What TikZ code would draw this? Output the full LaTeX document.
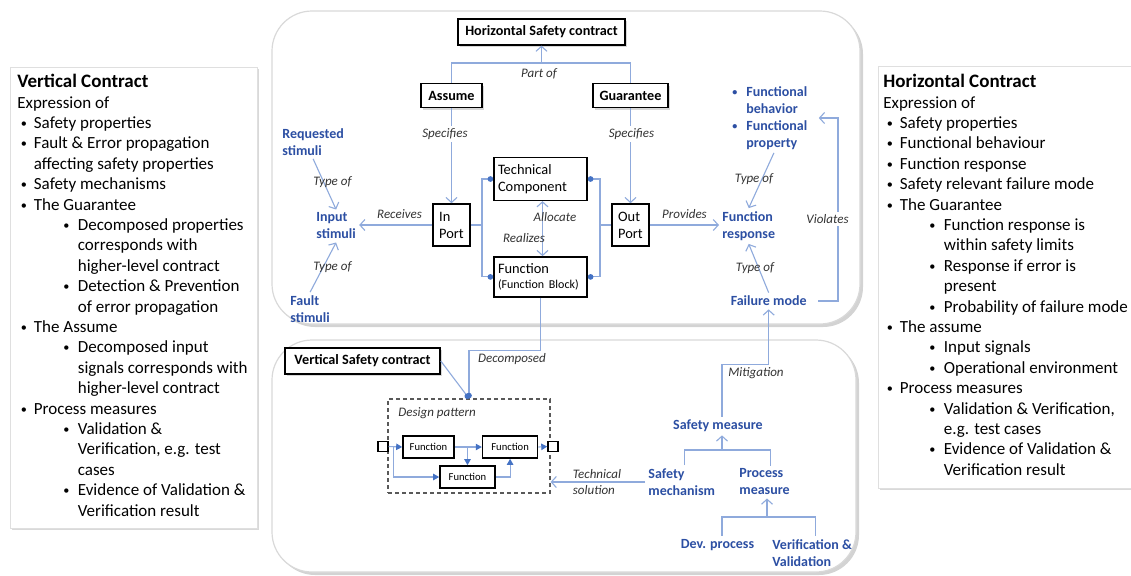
\documentclass[tikz,border=0pt]{standalone}
\usepackage{fontspec}
\setmainfont{Carlito}
\usepackage{tikz}
\usetikzlibrary{shapes, arrows.meta, positioning, shadows, fit}
\tikzstyle{every node}=[font=\fontsize{7.2}{8.5}\selectfont]

\definecolor{linkblue}{HTML}{8FAADC}
\definecolor{termblue}{HTML}{2C4FA3}
\definecolor{dotblue}{HTML}{4472C4}

% bullet lines for the two side panels
\newcommand{\smallbullet}{\raisebox{.12ex}{\scalebox{.72}{\textbullet}}}
\newcommand{\bitem}[1]{\hspace*{1.75pt}\makebox[6.5pt][l]{\smallbullet}#1}
\newcommand{\bcont}[1]{\hspace*{8.25pt}#1}
\newcommand{\sitem}[1]{\hspace*{23pt}\makebox[7.25pt][l]{\smallbullet}#1}
\newcommand{\scont}[1]{\hspace*{30.25pt}#1}

\begin{document}
\begin{tikzpicture}[
        x=0.5pt, y=-0.5pt, % one unit = one pixel of the layout
        >={Straight Barb[length=2.5pt,width=5.5pt]},
        container/.style={draw=gray!30, fill=white, rounded corners=20pt, line width=0.6pt, drop shadow={shadow xshift=1.5pt, shadow yshift=-1.5pt, opacity=0.35}},
        panel/.style={draw=gray!25, fill=white, line width=0.5pt, drop shadow={shadow xshift=1.2pt, shadow yshift=-1.2pt, opacity=0.3}},
        contract/.style={draw, thick, fill=white, font=\fontsize{7.1}{8.5}\selectfont\bfseries, inner xsep=2.5pt, minimum height=12pt, drop shadow={shadow xshift=1pt, shadow yshift=-1pt, opacity=0.3}},
        port/.style={draw, thick, fill=white, align=left, minimum width=18.5pt, minimum height=21pt, inner sep=1pt},
        block/.style={draw, thick, fill=white, align=left, text width=42.5pt, inner xsep=2pt},
        term/.style={text=termblue, font=\fontsize{7}{8.5}\selectfont\bfseries, align=left, inner sep=1.5pt},
        lbl/.style={font=\fontsize{6.5}{8}\selectfont\itshape, text=black!80, inner sep=1pt},
        link/.style={draw=linkblue, line width=0.55pt},
        dot/.style={-{Circle[length=2.8pt, color=dotblue]}},
        flow/.style={link, -{Triangle[length=3pt, width=3.2pt, color=dotblue]}},
        fnbox/.style={draw, thick, fill=white, font=\fontsize{5.3}{6}\selectfont, minimum height=11pt, inner xsep=2pt},
        pbox/.style={draw, line width=0.7pt, fill=white, minimum size=5pt, inner sep=0pt},
        sidetext/.style={anchor=north west, align=left, inner sep=0pt, font=\fontsize{8.5}{10.2}\selectfont}
    ]
    \useasboundingbox (0,0) rectangle (1131,575);

    % --- Side panels ---
    \node[panel, fit={(10,67) (257,528)}, inner sep=0pt] (vpanel) {};
    \node[sidetext] (vtext) at (17,74) {%
        {\fontsize{9.5}{10.2}\selectfont\bfseries Vertical Contract}\\
        Expression of\\
        \bitem{Safety properties}\\
        \bitem{Fault \& Error propagation}\\
        \bcont{affecting safety properties}\\
        \bitem{Safety mechanisms}\\
        \bitem{The Guarantee}\\
        \sitem{Decomposed properties}\\
        \scont{corresponds with}\\
        \scont{higher-level contract}\\
        \sitem{Detection \& Prevention}\\
        \scont{of error propagation}\\
        \bitem{The Assume}\\
        \sitem{Decomposed input}\\
        \scont{signals corresponds with}\\
        \scont{higher-level contract}\\
        \bitem{Process measures}\\
        \sitem{Validation \&}\\
        \scont{Verification, e.g. test}\\
        \scont{cases}\\
        \sitem{Evidence of Validation \&}\\
        \scont{Verification result}};

    \node[panel, fit={(878,66) (1135,488)}, inner sep=0pt] (hpanel) {};
    \node[sidetext] (htext) at (883,74) {%
        {\fontsize{9.5}{10.2}\selectfont\bfseries Horizontal Contract}\\
        Expression of\\
        \bitem{Safety properties}\\
        \bitem{Functional behaviour}\\
        \bitem{Function response}\\
        \bitem{Safety relevant failure mode}\\
        \bitem{The Guarantee}\\
        \sitem{Function response is}\\
        \scont{within safety limits}\\
        \sitem{Response if error is}\\
        \scont{present}\\
        \sitem{Probability of failure mode}\\
        \bitem{The assume}\\
        \sitem{Input signals}\\
        \sitem{Operational environment}\\
        \bitem{Process measures}\\
        \sitem{Validation \& Verification,}\\
        \scont{e.g. test cases}\\
        \sitem{Evidence of Validation \&}\\
        \scont{Verification result}};

    % --- Containers ---
    \node[container, fit={(272,11) (860,324)}, inner sep=0pt] (hcont) {};
    \node[container, fit={(272,340) (856,572)}, inner sep=0pt] (vcont) {};

    % --- Nodes (horizontal contract) ---
    \node[contract, minimum width=83.5pt] (hsc) at (541.5,32) {Horizontal Safety contract};
    \node[contract, minimum width=30.5pt] (assume) at (451.5,95.5) {Assume};
    \node[contract, minimum width=37.5pt] (guarantee) at (630.5,95.5) {Guarantee};
    \node[port] (inport) at (451.5,225) {In\\Port};
    \node[port] (outport) at (630.5,225) {Out\\Port};
    \node[block, minimum height=21pt] (tc) at (540.5,179) {Technical\\Component};
    \node[block, minimum height=18.5pt, below=27.5pt of tc] (func) {Function\\[-1pt]{\fontsize{6}{7}\selectfont(Function Block)}};

    \node[term, anchor=west] (reqstim) at (279,142) {Requested\\stimuli};
    \node[term, anchor=west] (instim) at (313,226) {Input\\stimuli};
    \node[term, anchor=west] (faultstim) at (287,309) {Fault\\stimuli};
    \node[term, anchor=west] (fresp) at (719,226) {Function\\response};
    \node[term, anchor=west, text width=41.5pt] (fprop) at (729,118) {%
        \makebox[7pt][l]{\smallbullet}Functional\\\hspace*{7pt}behavior\\
        \makebox[7pt][l]{\smallbullet}Functional\\\hspace*{7pt}property};
    \node[term, anchor=east, inner xsep=5.5pt] (fmode) at (818,301) {Failure mode};

    % --- Nodes (vertical contract) ---
    \node[contract, minimum width=77.5pt] (vsc) at (362.5,361) {Vertical Safety contract};
    \node[draw=gray!70!black, line width=0.6pt, dash pattern=on 2pt off 1.5pt, fit={(388,399) (550,493)}, inner sep=0pt] (dpattern) {};
    \node[lbl, anchor=west] at (396,413) {Design pattern};
    \node[fnbox, minimum width=25.5pt] (f1) at (428.5,447) {Function};
    \node[fnbox, minimum width=27.5pt, right=13.5pt of f1] (f2) {Function};
    \node[fnbox, minimum width=27.5pt] (f3) at (467.5,477) {Function};
    \node[pbox] (pin) at (383,446.5) {};
    \node[pbox] (pout) at (553,446.5) {};

    \node[term, align=center] (smeasure) at (718,426) {Safety measure};
    \node[term, anchor=west] (smech) at (645,482) {Safety\\mechanism};
    \node[term, anchor=west] (pmeasure) at (736,482) {Process\\measure};
    \node[term, align=center] (devproc) at (717.5,545) {Dev. process};
    \node[term, anchor=west] (vv) at (769,553) {Verification \&\\Validation};

    % --- Connections & Labels ---

    % 1. Assume / Guarantee are part of the contract
    \coordinate (partof) at (541.5,63);
    \draw[link] (assume.north) |- (partof) -| (guarantee.north);
    \draw[link,->] (partof) -- (hsc.south);
    \node[lbl] at (539,74) {Part of};

    % 2. Specifies
    \draw[link,->] (assume.south) -- (inport.north);
    \node[lbl, fill=white] at (445,134) {Specifies};
    \draw[link,->] (guarantee.south) -- (outport.north);
    \node[lbl, fill=white] at (631.5,134) {Specifies};

    % 3. Ports to component and function
    \coordinate (injoin) at (482,225);
    \draw[link] (inport.east) -- (injoin);
    \draw[link,dot] (injoin) |- (tc.west);
    \draw[link,dot] (injoin) |- (func.west);
    \coordinate (outjoin) at (600,225);
    \draw[link] (outport.west) -- (outjoin);
    \draw[link,dot] (outjoin) |- (tc.east);
    \draw[link,dot] (outjoin) |- (func.east);
    \draw[link,<->] ([xshift=1pt]tc.south) -- ([xshift=1pt]func.north);
    \node[lbl] at (555,217) {Allocate};
    \node[lbl] at (524,238) {Realizes};

    % 4. Stimuli
    \draw[link,->] (inport.west) -- (inport.west -| instim.east);
    \node[lbl] at (399.5,214) {Receives};
    \draw[link,->] (reqstim.south) -- (instim.north);
    \node[lbl] at (332.5,182) {Type of};
    \draw[link,->] (faultstim.north) -- (instim.south);
    \node[lbl] at (332.5,267) {Type of};

    % 5. Response
    \draw[link,->] (outport.east) -- (outport.east -| fresp.west);
    \node[lbl] at (684.5,214) {Provides};
    \draw[link,->] (fprop.south) -- (fresp.north);
    \node[lbl] at (754,179) {Type of};
    \draw[link,->] (fmode.north) -- (fresp.south);
    \node[lbl] at (755,268) {Type of};
    \draw[link,->] (fmode.east) -- ++(20,0) |- (fprop.east);
    \node[lbl, fill=white] at (827.5,219) {Violates};

    % 6. Decomposition
    \draw[link,dot] (func.south) -- ++(0,53) -| (dpattern.north);
    \draw[link,dot] (vsc.east) -- (dpattern.north);
    \node[lbl] at (512,359) {Decomposed};

    % 7. Design pattern flow
    \draw[flow] (pin.east) -- (f1.west);
    \draw[flow] (f1.east) -- (f2.west);
    \draw[flow] (f1.east -| f3.north) -- (f3.north);
    \draw[flow] ([xshift=2.5pt]pin.east) |- (f3.west);
    \draw[flow] (f3.east) -| (f2.south);
    \draw[flow] (f2.east) -- (pout.west);

    % 8. Safety measures
    \draw[link,->] (smech.west) -- (smech.west -| dpattern.east);
    \node[lbl, align=left] at (597,482) {Technical\\solution};
    \draw[link,->] ([xshift=2pt]smeasure.north) -- ++(0,-52) -| (fmode.south);
    \node[lbl] at (756,373) {Mitigation};
    \coordinate (smjoin) at (722,450);
    \draw[link] ([xshift=1.5pt]smech.north) |- (smjoin) -| ([xshift=2.75pt]pmeasure.north);
    \draw[link,->] (smjoin) -- (smjoin |- smeasure.south);
    \coordinate (pmjoin) at (767,517);
    \draw[link] ([xshift=2.25pt]devproc.north) |- (pmjoin) -| ([xshift=1.5pt]vv.north);
    \draw[link,->] (pmjoin) -- (pmjoin |- pmeasure.south);

\end{tikzpicture}
\end{document}
